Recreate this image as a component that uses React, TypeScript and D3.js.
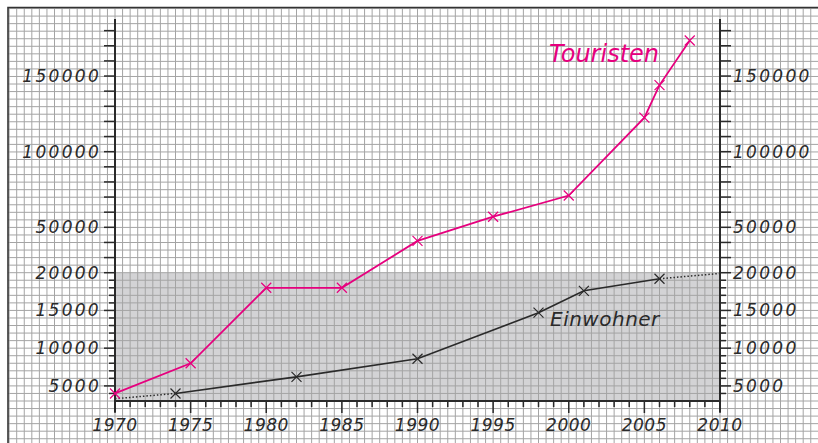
import React from "react"
import * as d3 from "d3"

// Touristen (pink)
const touristYears = [1970, 1975, 1980, 1985, 1990, 1995, 2000, 2005, 2006, 2008]
const touristValues = [4000, 8000, 18000, 18000, 41000, 57000, 71000, 122500, 144000, 173500]

// Einwohner (dark), measured points
const residentYears = [1974, 1982, 1990, 1998, 2001, 2006]
const residentValues = [4000, 6200, 8600, 14700, 17600, 19200]
// dotted (estimated) ends
const residentStartYears = [1970, 1974]
const residentStartValues = [3300, 4000]
const residentEndYears = [2006, 2010]
const residentEndValues = [19200, 19900]

const xTickYears = d3.range(1970, 2011, 1)
const xLabelYears = [1970, 1975, 1980, 1985, 1990, 1995, 2000, 2005, 2010]
const lowerTicks = d3.range(4000, 20001, 1000)
const lowerLabels = [5000, 10000, 15000, 20000]
const upperTicks = d3.range(30000, 180001, 10000)
const upperLabels = [50000, 100000, 150000]

const W = 818
const H = 443
const PINK = "#e6007e"
const INK = "#2a2a2a"
const FONT = "'DejaVu Sans', sans-serif"

const x = d3.scaleLinear().domain([1970, 2010]).range([115, 720])
const yLow = d3.scaleLinear().domain([3000, 20000]).range([401, 272.7])
const yHigh = d3.scaleLinear().domain([20000, 187700]).range([272.7, 19])
const y = (v: number) => (v <= 20000 ? yLow(v) : yHigh(v))

type P = [number, number]
const zip = (a: number[], b: number[]): P[] => a.map((d, i) => [d, b[i]])

const line = d3
  .line<P>()
  .x((d) => x(d[0]))
  .y((d) => y(d[1]))

function Cross({ cx, cy, color }: { cx: number; cy: number; color: string }) {
  const s = 5
  return (
    <path
      d={`M${cx - s},${cy - s}L${cx + s},${cy + s}M${cx - s},${cy + s}L${cx + s},${cy - s}`}
      stroke={color}
      strokeWidth={1.2}
    />
  )
}

export default function App() {
  // grid aligned on half years / 1000 steps of the lower scale
  const gridStepX = x(1970.5) - x(1970)
  const gridStepY = yLow(3000) - yLow(4000)
  const gridX = d3.range(x(1970) - Math.floor((x(1970) - 8) / gridStepX) * gridStepX, W, gridStepX)
  const gridY = d3.range(yLow(20000) - Math.floor((yLow(20000) - 8) / gridStepY) * gridStepY, H, gridStepY)

  const tourist = zip(touristYears, touristValues)
  const resident = zip(residentYears, residentValues)

  const labelStyle = { fontFamily: FONT, fontStyle: "italic", fontWeight: 200 } as const

  return (
    <svg width={W} height={H} style={{ position: "absolute", left: 0, top: 0, background: "#fff" }}>
      {/* shaded lower band */}
      <rect x={x(1970)} y={yLow(20000)} width={x(2010) - x(1970)} height={yLow(3000) - yLow(20000)} fill="#d3d3d5" />

      {/* squared paper */}
      <g stroke="#a4a4a4" strokeWidth={1}>
        {gridX.map((gx, i) => (
          <line key={"gx" + i} x1={gx} x2={gx} y1={8} y2={H} />
        ))}
        {gridY.map((gy, i) => (
          <line key={"gy" + i} x1={8} x2={W} y1={gy} y2={gy} />
        ))}
      </g>

      {/* frame */}
      <path d={`M8,${H}V7.5H${W}`} fill="none" stroke="#333" strokeWidth={1.6} />

      {/* axes */}
      <g stroke={INK} strokeWidth={2} fill="none">
        <line x1={x(1970)} x2={x(1970)} y1={yHigh(187700)} y2={yLow(3000) + 11} />
        <line x1={x(2010)} x2={x(2010)} y1={yHigh(187700)} y2={yLow(3000) + 11} />
        <line x1={x(1970)} x2={x(2010)} y1={yLow(3000)} y2={yLow(3000)} />
      </g>

      {/* x ticks */}
      <g stroke={INK} strokeWidth={1.5}>
        {xTickYears.map((yr) => (
          <line key={yr} x1={x(yr)} x2={x(yr)} y1={yLow(3000)} y2={yLow(3000) + (yr % 5 === 0 ? 12 : 6)} />
        ))}
      </g>
      <g fill={INK} fontSize={17} letterSpacing={0.5} textAnchor="middle" style={labelStyle}>
        {xLabelYears.map((yr) => (
          <text key={yr} x={x(yr)} y={431}>
            {yr}
          </text>
        ))}
      </g>

      {/* y ticks */}
      <g stroke={INK} strokeWidth={1.5}>
        {lowerTicks.map((v) => {
          const len = v % 5000 === 0 ? 11 : 6
          return (
            <g key={"l" + v}>
              <line x1={x(1970) - len} x2={x(1970)} y1={yLow(v)} y2={yLow(v)} />
              <line x1={x(2010)} x2={x(2010) + len} y1={yLow(v)} y2={yLow(v)} />
            </g>
          )
        })}
        {upperTicks.map((v) => (
          <g key={"u" + v}>
            <line x1={x(1970) - 11} x2={x(1970)} y1={yHigh(v)} y2={yHigh(v)} />
            <line x1={x(2010)} x2={x(2010) + 11} y1={yHigh(v)} y2={yHigh(v)} />
          </g>
        ))}
      </g>
      <g fill={INK} fontSize={17} letterSpacing={2.3} style={labelStyle}>
        {[...lowerLabels.map((v) => [v, yLow(v)]), ...upperLabels.map((v) => [v, yHigh(v)])].map(([v, py]) => (
          <g key={"t" + v}>
            <text x={101} y={py + 6} textAnchor="end">
              {v}
            </text>
            <text x={733} y={py + 6}>
              {v}
            </text>
          </g>
        ))}
      </g>

      {/* Einwohner */}
      <g fill="none" stroke={INK}>
        <path d={line(zip(residentStartYears, residentStartValues)) || ""} strokeWidth={1.5} strokeDasharray="1.5,2" />
        <path d={line(zip(residentEndYears, residentEndValues)) || ""} strokeWidth={1.5} strokeDasharray="1.5,2" />
        <path d={line(resident) || ""} strokeWidth={1.6} />
        {resident.map((d, i) => (
          <Cross key={i} cx={x(d[0])} cy={y(d[1])} color={INK} />
        ))}
      </g>

      {/* Touristen */}
      <g fill="none" stroke={PINK}>
        <path d={line(tourist) || ""} strokeWidth={1.8} />
        {tourist.map((d, i) => (
          <Cross key={i} cx={x(d[0])} cy={y(d[1])} color={PINK} />
        ))}
      </g>

      <text x={549} y={62} fill={PINK} fontSize={24} style={labelStyle}>
        Touristen
      </text>
      <text x={550} y={326} fill={INK} fontSize={20} letterSpacing={0.5} style={labelStyle}>
        Einwohner
      </text>
    </svg>
  )
}
